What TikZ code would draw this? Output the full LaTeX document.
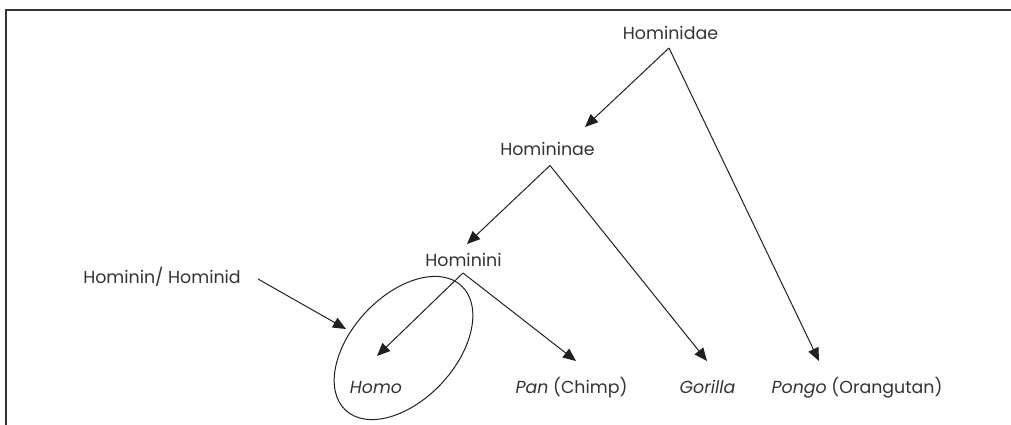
\documentclass[tikz,border=0pt]{standalone}
\usepackage{fontspec}
\setmainfont{Poppins}
\usetikzlibrary{arrows.meta}
\definecolor{ink}{HTML}{231F20}
\definecolor{txt}{HTML}{333333}
\begin{document}
\begin{tikzpicture}[x=1pt,y=-1pt,
  lbl/.style={inner sep=0pt, text=txt, font=\fontsize{17.4}{20}\selectfont, anchor=base},
  conn/.style={draw=ink, line width=1pt},
  arr/.style={conn, -{Triangle[length=13pt,width=11pt]}},
  frame/.style={draw=black!80, line width=1.3pt}]
\useasboundingbox (0,0) rectangle (1011,425);
\draw[frame] (6,425) -- (6,10) -- (1011,10);
% labels
\node[lbl] (hidae) at (670.5,39.5) {Hominidae};
\node[lbl] (hinae) at (547.5,155) {Homininae};
\node[lbl] (hini) at (463.5,266.7) {Hominini};
\node[lbl] (hid) at (162,283) {Hominin/ Hominid};
\node[lbl] (homo) at (376,393.5) {\itshape Homo};
\node[lbl] (pan) at (571.5,393.5) {\itshape Pan\upshape{} (Chimp)};
\node[lbl] (gor) at (707.5,393.5) {\itshape Gorilla};
\node[lbl] (pongo) at (857,393.5) {\itshape Pongo\upshape{} (Orangutan)};
% apexes and arrow tips
\coordinate (a1) at (669,48);
\coordinate (a2) at (550,165.5);
\coordinate (a3) at (463,273);
\coordinate (t1) at (585,127);
\coordinate (t2) at (467,244);
\coordinate (t3) at (377,356);
\coordinate (t4) at (576,361);
\coordinate (t5) at (707,361);
\coordinate (t6) at (819,361);
\coordinate (s0) at (258,279);
\coordinate (t0) at (346,329);
\coordinate (ec) at (403.5,348);
% connectors
\draw[arr] (a1) -- (t1);
\draw[arr] (a1) -- (t6);
\draw[arr] (a2) -- (t2);
\draw[arr] (a2) -- (t5);
\draw[arr] (a3) -- (t3);
\draw[arr] (a3) -- (t4);
\draw[arr] (s0) -- (t0);
% ellipse round Homo
\draw[conn, rotate around={47:(ec)}] (ec) ellipse [x radius=85pt, y radius=52pt];
\end{tikzpicture}
\end{document}
